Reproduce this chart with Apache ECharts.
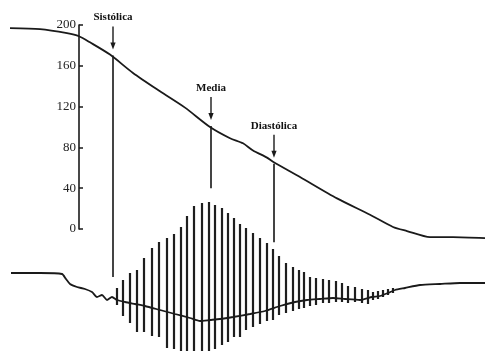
<!DOCTYPE html>
<html>
<head>
<meta charset="utf-8">
<script src="https://cdn.jsdelivr.net/npm/echarts@6/dist/echarts.min.js"></script>
<style>html,body{margin:0;padding:0;background:#fff}#c{width:485px;height:351px}</style>
</head>
<body>
<div id="c"></div>
<script>
// Cuff pressure (mmHg) over time (s)
const pressureTime = [1.0, 4.0, 6.7, 7.9, 9.0, 11.0, 13.3, 16.0, 18.5, 21.0, 23.0, 24.3, 25.3, 26.7, 27.3, 30.0, 33.7, 37.0, 39.3, 40.7, 43.0, 45.3, 48.5];
const pressureValue = [197, 196, 192, 189, 183, 171, 153, 135, 119, 100, 89, 84, 77, 70, 66, 51, 30, 14, 2, -2, -8, -8, -9];
const pressureTicks = [0, 40, 80, 120, 160, 200];

// Oscillation trace baseline (arbitrary units)
const traceTime = [1.1, 4.0, 6.2, 6.6, 7.0, 7.7, 8.5, 9.2, 9.7, 10.2, 10.7, 11.2, 11.7, 12.5, 13.5, 14.5, 16.0, 17.5, 19.0, 20.0, 21.0, 22.0, 23.3, 25.0, 26.5, 28.0, 29.5, 30.7, 32.0, 33.3, 34.5, 36.0, 37.2, 38.0, 38.8, 39.5, 40.5, 42.0, 44.0, 46.0, 48.5];
const traceLevel = [-3, -3, -4, -9, -14, -17, -19, -22, -27, -25, -30, -27, -30, -32, -34, -36, -40, -44, -48, -51, -50, -49, -47, -44, -41, -36, -32, -30, -29, -28, -29, -30, -27, -26, -23, -20, -18, -15, -14, -13, -13];

// Oscillation beats: time, peak, trough
const beatTime = [11.7, 12.3, 13.0, 13.7, 14.4, 15.2, 15.9, 16.7, 17.4, 18.1, 18.7, 19.4, 20.2, 20.9, 21.5, 22.2, 22.8, 23.4, 24.0, 24.6, 25.3, 26.0, 26.7, 27.3, 27.9, 28.6, 29.3, 29.9, 30.4, 31.0, 31.6, 32.3, 32.9, 33.6, 34.2, 34.8, 35.5, 36.2, 36.8, 37.3, 37.8, 38.3, 38.8, 39.3];
const beatHigh = [-18, -10, -3, 0, 12, 22, 28, 32, 36, 43, 54, 64, 67, 68, 65, 62, 57, 52, 46, 42, 37, 32, 27, 21, 14, 7, 3, 0, -2, -7, -8, -9, -10, -11, -13, -16, -17, -19, -20, -22, -21, -20, -19, -18];
const beatLow = [-35, -46, -53, -62, -62, -66, -67, -78, -79, -86, -88, -90, -90, -85, -79, -75, -72, -67, -67, -60, -57, -54, -51, -50, -45, -43, -41, -39, -38, -36, -35, -33, -33, -32, -32, -33, -32, -33, -34, -30, -29, -27, -25, -23];

// Markers: name, time, pressure read, where the drop line ends (mmHg scale)
const markerNames = ['Sistólica', 'Media', 'Diastólica'];
const markerTime = [11.3, 21.1, 27.4];
const markerPressure = [170, 101, 64];
const markerEnd = [-47, 40, -13];

const INK = '#1a1a1a';
const chart = echarts.init(document.getElementById('c'), null, {renderer: 'canvas'});
chart.setOption({
  animation: false,
  backgroundColor: '#fff',
  grid: [
    {left: 0, right: 0, top: 25, height: 204},
    {left: 0, right: 0, top: 190, height: 161}
  ],
  xAxis: [
    {type: 'value', gridIndex: 0, min: 0, max: 48.5, show: false},
    {type: 'value', gridIndex: 1, min: 0, max: 48.5, show: false}
  ],
  yAxis: [
    {
      type: 'value', gridIndex: 0,
      min: pressureTicks[0], max: pressureTicks[pressureTicks.length - 1],
      interval: pressureTicks[1] - pressureTicks[0],
      position: 'left', offset: -79,
      splitLine: {show: false},
      axisLine: {show: true, lineStyle: {color: INK, width: 1.6}},
      axisTick: {show: true, inside: true, length: 4, lineStyle: {color: INK, width: 1.5}},
      axisLabel: {
        color: '#222', fontFamily: 'Liberation Serif', fontSize: 13, margin: 3,
        formatter: v => String(v)
      }
    },
    {type: 'value', gridIndex: 1, min: -81, max: 80, show: false}
  ],
  series: [
    {
      type: 'line', xAxisIndex: 0, yAxisIndex: 0,
      data: pressureTime.map((t, i) => [t, pressureValue[i]]),
      smooth: 0.25, showSymbol: false, clip: false,
      lineStyle: {color: INK, width: 1.8}
    },
    {
      type: 'line', xAxisIndex: 1, yAxisIndex: 1,
      data: traceTime.map((t, i) => [t, traceLevel[i]]),
      smooth: 0.2, showSymbol: false, clip: false,
      lineStyle: {color: INK, width: 1.8}
    },
    {
      type: 'custom', xAxisIndex: 1, yAxisIndex: 1,
      data: beatTime.map((t, i) => [t, beatHigh[i], beatLow[i]]),
      encode: {x: 0, y: [1, 2]},
      renderItem: (params, api) => {
        const a = api.coord([api.value(0), api.value(1)]);
        const b = api.coord([api.value(0), api.value(2)]);
        return {
          type: 'line',
          shape: {x1: a[0], y1: a[1], x2: b[0], y2: b[1]},
          style: {stroke: '#1e1e1e', lineWidth: 2.2}
        };
      }
    },
    {
      type: 'custom', xAxisIndex: 0, yAxisIndex: 0,
      data: markerTime.map((t, i) => [t, markerPressure[i], markerEnd[i]]),
      encode: {x: 0, y: [1, 2]},
      renderItem: (params, api) => {
        const p = api.coord([api.value(0), api.value(1)]);
        const e = api.coord([api.value(0), api.value(2)]);
        const x = p[0], y = p[1];
        return {
          type: 'group',
          children: [
            {type: 'line', shape: {x1: x, y1: y, x2: e[0], y2: e[1]}, style: {stroke: '#444', lineWidth: 2}},
            {type: 'line', shape: {x1: x, y1: y - 29, x2: x, y2: y - 12}, style: {stroke: INK, lineWidth: 1.4}},
            {type: 'polygon', shape: {points: [[x - 2.6, y - 13], [x + 2.6, y - 13], [x, y - 6]]}, style: {fill: INK}},
            {type: 'text', x: x, y: y - 38, style: {
              text: markerNames[params.dataIndex], fill: '#111',
              font: 'bold 11px "Liberation Serif"', align: 'center', verticalAlign: 'middle'
            }}
          ]
        };
      }
    }
  ]
});
</script>
</body>
</html>
